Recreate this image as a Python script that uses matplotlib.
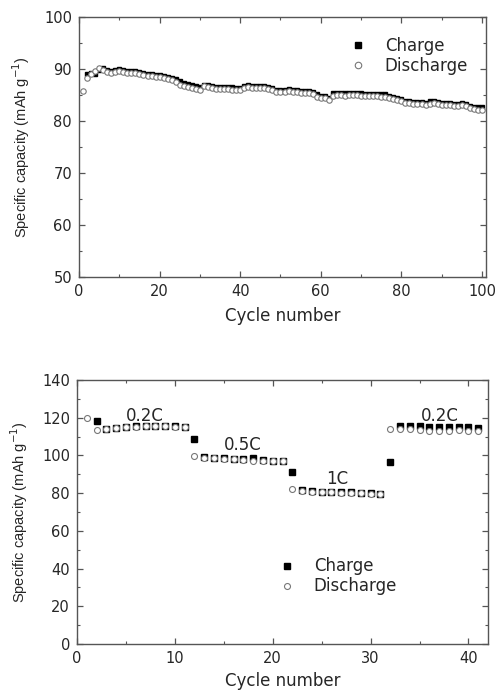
import matplotlib
matplotlib.use("Agg")
import matplotlib.pyplot as plt
from matplotlib.ticker import MultipleLocator

plt.rcParams['font.family'] = ['DejaVu Sans']

# ---- Top panel: cycling at fixed rate ----
top_dis_cycles = list(range(1, 101))
top_discharge = [
    85.7, 88.3, 89.0, 89.6, 90.2, 89.9, 89.4, 89.3, 89.4, 89.6,
    89.5, 89.3, 89.2, 89.2, 89.1, 88.9, 88.7, 88.6, 88.5, 88.5,
    88.3, 88.1, 87.8, 87.5, 87.0, 86.8, 86.6, 86.3, 86.1, 86.0,
    86.7, 86.5, 86.3, 86.1, 86.1, 86.2, 86.2, 86.0, 85.9, 86.0,
    86.4, 86.5, 86.4, 86.4, 86.4, 86.3, 86.1, 85.9, 85.6, 85.5,
    85.6, 85.7, 85.6, 85.5, 85.4, 85.4, 85.3, 85.2, 84.7, 84.5,
    84.4, 84.1, 84.9, 85.0, 85.0, 84.9, 85.0, 85.0, 85.0, 84.9,
    84.8, 84.8, 84.8, 84.8, 84.7, 84.7, 84.5, 84.2, 84.0, 83.8,
    83.5, 83.4, 83.3, 83.3, 83.2, 83.1, 83.3, 83.4, 83.3, 83.1,
    83.0, 83.0, 82.9, 82.9, 83.0, 82.8, 82.5, 82.3, 82.2, 82.2,
]
top_chg_cycles = list(range(2, 101))
top_charge = [
    89.0, 89.2, 89.1, 89.8, 90.2, 89.9, 89.7, 89.8, 90.0,
    89.9, 89.7, 89.6, 89.6, 89.5, 89.3, 89.1, 89.0, 88.9, 88.9,
    88.7, 88.5, 88.3, 88.0, 87.6, 87.3, 87.2, 87.0, 86.7, 86.5,
    87.0, 86.9, 86.8, 86.6, 86.5, 86.6, 86.6, 86.5, 86.3, 86.4,
    86.8, 86.9, 86.8, 86.8, 86.8, 86.7, 86.5, 86.3, 86.0, 85.9,
    86.0, 86.1, 86.0, 85.9, 85.8, 85.8, 85.8, 85.6, 85.1, 84.9,
    84.8, 84.5, 85.3, 85.4, 85.4, 85.3, 85.4, 85.4, 85.4, 85.3,
    85.2, 85.2, 85.2, 85.2, 85.1, 85.1, 84.9, 84.6, 84.4, 84.2,
    83.9, 83.8, 83.7, 83.7, 83.6, 83.5, 83.8, 83.8, 83.7, 83.5,
    83.4, 83.4, 83.3, 83.3, 83.4, 83.2, 82.9, 82.7, 82.6, 82.6,
]

# ---- Bottom panel: rate capability ----
bot_dis_cycles = list(range(1, 42))
bot_discharge = [
    120.0, 113.3, 114.0, 114.5, 115.0, 115.3, 115.5, 115.5, 115.5, 115.3, 115.2,
    99.7, 98.8, 98.5, 98.2, 98.0, 97.8, 97.2, 96.9, 96.9, 96.9,
    82.0, 81.2, 80.8, 80.5, 80.5, 80.3, 80.2, 80.0, 79.8, 79.5,
    113.8, 113.8, 113.8, 113.5, 112.8, 113.0, 113.2, 113.3, 112.8, 113.0,
]
bot_chg_cycles = list(range(2, 42))
bot_charge = [
    118.3, 114.2, 114.7, 115.2, 115.5, 115.7, 115.7, 115.6, 115.5, 115.2,
    108.5, 99.2, 98.8, 98.5, 98.3, 98.1, 98.4, 97.4, 97.3, 97.2,
    91.0, 81.8, 81.2, 80.8, 80.7, 80.5, 80.4, 80.2, 80.0, 79.8,
    96.5, 115.4, 115.5, 115.6, 115.0, 115.0, 115.0, 115.1, 115.2, 114.7,
]
rate_labels = ["0.2C", "0.5C", "1C", "0.2C"]
rate_label_x = [6.9, 16.9, 26.6, 37.1]
rate_label_y = [121, 105.5, 87.5, 121]

TXT = '#262626'
SP = '#555555'
W, H = 498, 691
YLAB_FONT = ['Liberation Sans', 'DejaVu Sans']

fig = plt.figure(figsize=(W / 100, H / 100), dpi=100)

def style(ax):
    for s in ax.spines.values():
        s.set_color(SP)
        s.set_linewidth(1.0)
    ax.tick_params(which='both', direction='in', top=True, right=True,
                   colors=SP, labelcolor=TXT, labelsize=10.5, pad=5)
    ax.tick_params(which='major', length=4, width=0.9)
    ax.tick_params(which='minor', length=2.5, width=0.8)

ax1 = fig.add_axes([79 / W, 1 - 277 / H, (486 - 79) / W, (277 - 17) / H])
ax1.plot(top_chg_cycles, top_charge, 's', color='black', ms=3.4,
         label='Charge', linestyle='none')
ax1.plot(top_dis_cycles, top_discharge, 'o', mfc='white', mec='#777777',
         mew=0.8, ms=3.9, label='Discharge', linestyle='none')
ax1.set_xlim(0, 101)
ax1.set_ylim(50, 100)
ax1.xaxis.set_major_locator(MultipleLocator(20))
ax1.xaxis.set_minor_locator(MultipleLocator(10))
ax1.yaxis.set_major_locator(MultipleLocator(10))
ax1.yaxis.set_minor_locator(MultipleLocator(5))
style(ax1)
ax1.set_xlabel('Cycle number', fontsize=12, color=TXT, labelpad=6)
ax1.set_ylabel('Specific capacity (mAh g$^{-1}$)', fontsize=10.5, color=TXT,
               labelpad=9, family=YLAB_FONT)
ax1.legend(loc='upper left', bbox_to_anchor=(0.665, 0.925), frameon=False,
           fontsize=12, handlelength=1.0, handletextpad=1.1, labelspacing=0.12,
           borderpad=0, borderaxespad=0, markerscale=1.2, labelcolor=TXT)

ax2 = fig.add_axes([77 / W, 1 - 644 / H, (488 - 77) / W, (644 - 380) / H])
ax2.plot(bot_chg_cycles, bot_charge, 's', color='black', ms=3.9,
         label='Charge', linestyle='none')
ax2.plot(bot_dis_cycles, bot_discharge, 'o', mfc='white', mec='#777777',
         mew=0.8, ms=4.3, label='Discharge', linestyle='none')
for t, x, y in zip(rate_labels, rate_label_x, rate_label_y):
    ax2.text(x, y, t, fontsize=12, color=TXT, ha='center', va='center')
ax2.set_xlim(0, 42)
ax2.set_ylim(0, 140)
ax2.xaxis.set_major_locator(MultipleLocator(10))
ax2.xaxis.set_minor_locator(MultipleLocator(5))
ax2.yaxis.set_major_locator(MultipleLocator(20))
ax2.yaxis.set_minor_locator(MultipleLocator(10))
style(ax2)
ax2.set_xlabel('Cycle number', fontsize=12, color=TXT, labelpad=4)
ax2.set_ylabel('Specific capacity (mAh g$^{-1}$)', fontsize=10.5, color=TXT,
               labelpad=9, family=YLAB_FONT)
ax2.legend(loc='upper left', bbox_to_anchor=(0.491, 0.328), frameon=False,
           fontsize=12, handlelength=1.0, handletextpad=1.1, labelspacing=0.12,
           borderpad=0, borderaxespad=0, markerscale=1.0, labelcolor=TXT)

fig.savefig('out.png', dpi=100)
